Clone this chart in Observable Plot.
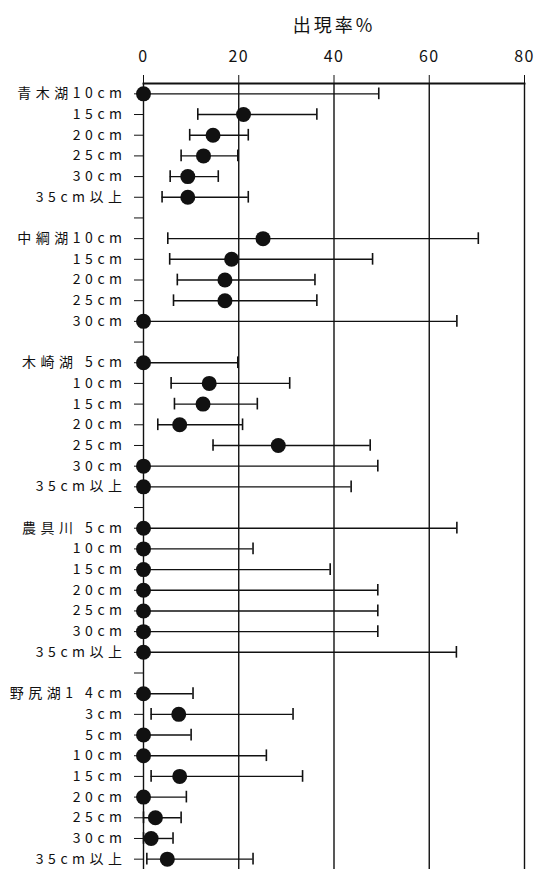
<!DOCTYPE html>
<html>
<head>
<meta charset="utf-8">
<script src="https://cdn.jsdelivr.net/npm/d3@7"></script>
<script src="https://cdn.jsdelivr.net/npm/@observablehq/plot@0.6"></script>
<style>
  html, body { margin: 0; padding: 0; background: white; overflow: hidden; }
</style>
</head>
<body>
<div id="chart"></div>
<script>
// Row labels (blank strings are spacer rows between groups)
const rows = [
  "青木湖10cm","15cm","20cm","25cm","30cm","35cm以上","",
  "中綱湖10cm","15cm","20cm","25cm","30cm","",
  "木崎湖 5cm","10cm","15cm","20cm","25cm","30cm","35cm以上","",
  "農具川 5cm","10cm","15cm","20cm","25cm","30cm","35cm以上","",
  "野尻湖1 4cm","3cm","5cm","10cm","15cm","20cm","25cm","30cm","35cm以上"
];
// Estimated appearance rate (%)
const est = [0,21,14.6,12.6,9.3,9.3,null,
  25.1,18.5,17.1,17.1,0,null,
  0,13.8,12.5,7.6,28.3,0,0,null,
  0,0,0,0,0,0,0,null,
  0,7.4,0,0,7.6,0,2.5,1.6,5];
// Lower bound (%)
const lo = [0,11.4,9.7,7.9,5.6,3.9,null,
  5.1,5.5,7.1,6.3,0,null,
  0,5.8,6.5,3.0,14.6,0,0,null,
  0,0,0,0,0,0,0,null,
  0,1.6,0,0,1.6,0,0,0,0.7];
// Upper bound (%)
const hi = [49.4,36.4,22.0,19.8,15.7,22.0,null,
  70.3,48.1,36.0,36.4,65.8,null,
  19.8,30.7,23.9,20.8,47.6,49.2,43.6,null,
  65.8,23.0,39.2,49.2,49.2,49.2,65.7,null,
  10.4,31.4,10.0,25.8,33.4,9.0,7.9,6.2,23.0];
const xTicks = [0,20,40,60,80];

const data = rows.map((label, i) => ({i, label, est: est[i], lo: lo[i], hi: hi[i]}))
  .filter(d => d.est != null);

const ink = "#111";
const chart = Plot.plot({
  width: 541,
  height: 869,
  marginTop: 83,
  marginBottom: 0,
  marginLeft: 143,
  marginRight: 17,
  x: {domain: [0, 80]},
  y: {type: "band", domain: d3.range(rows.length), padding: 0, round: false},
  style: {fontFamily: "'Noto Sans CJK JP', sans-serif", background: "white", color: ink},
  marks: [
    Plot.ruleX(xTicks, {stroke: ink, strokeWidth: 1.4}),
    Plot.frame({anchor: "top", stroke: ink, strokeWidth: 1.8}),
    Plot.axisX({anchor: "top", ticks: xTicks, tickSize: 9, tickPadding: 13, fontSize: 16,
      label: "出現率%", labelAnchor: "center", labelArrow: "none", labelOffset: 64}),
    Plot.axisY({anchor: "left", tickSize: 9, tickPadding: 8, fontSize: 14,
      tickFormat: i => rows[i], label: null}),
    Plot.ruleY(data, {y: "i", x1: "lo", x2: "hi", stroke: ink, strokeWidth: 1.4}),
    Plot.tickX(data, {x: "lo", y: "i", stroke: ink, strokeWidth: 1.6, insetTop: 4.5, insetBottom: 4.5}),
    Plot.tickX(data, {x: "hi", y: "i", stroke: ink, strokeWidth: 1.6, insetTop: 4.5, insetBottom: 4.5}),
    Plot.dot(data, {x: "est", y: "i", r: 7.5, fill: ink, stroke: "none"})
  ]
});
chart.querySelectorAll('[aria-label="y-axis tick label"] text').forEach(t => t.setAttribute("letter-spacing", "4.5"));
chart.querySelectorAll('[aria-label="x-axis tick label"] text').forEach(t => t.setAttribute("letter-spacing", "1.5"));
chart.querySelectorAll('[aria-label="x-axis label"] text').forEach(t => { t.setAttribute("font-size", "18"); t.setAttribute("letter-spacing", "3"); });
document.getElementById("chart").appendChild(chart);
</script>
</body>
</html>
